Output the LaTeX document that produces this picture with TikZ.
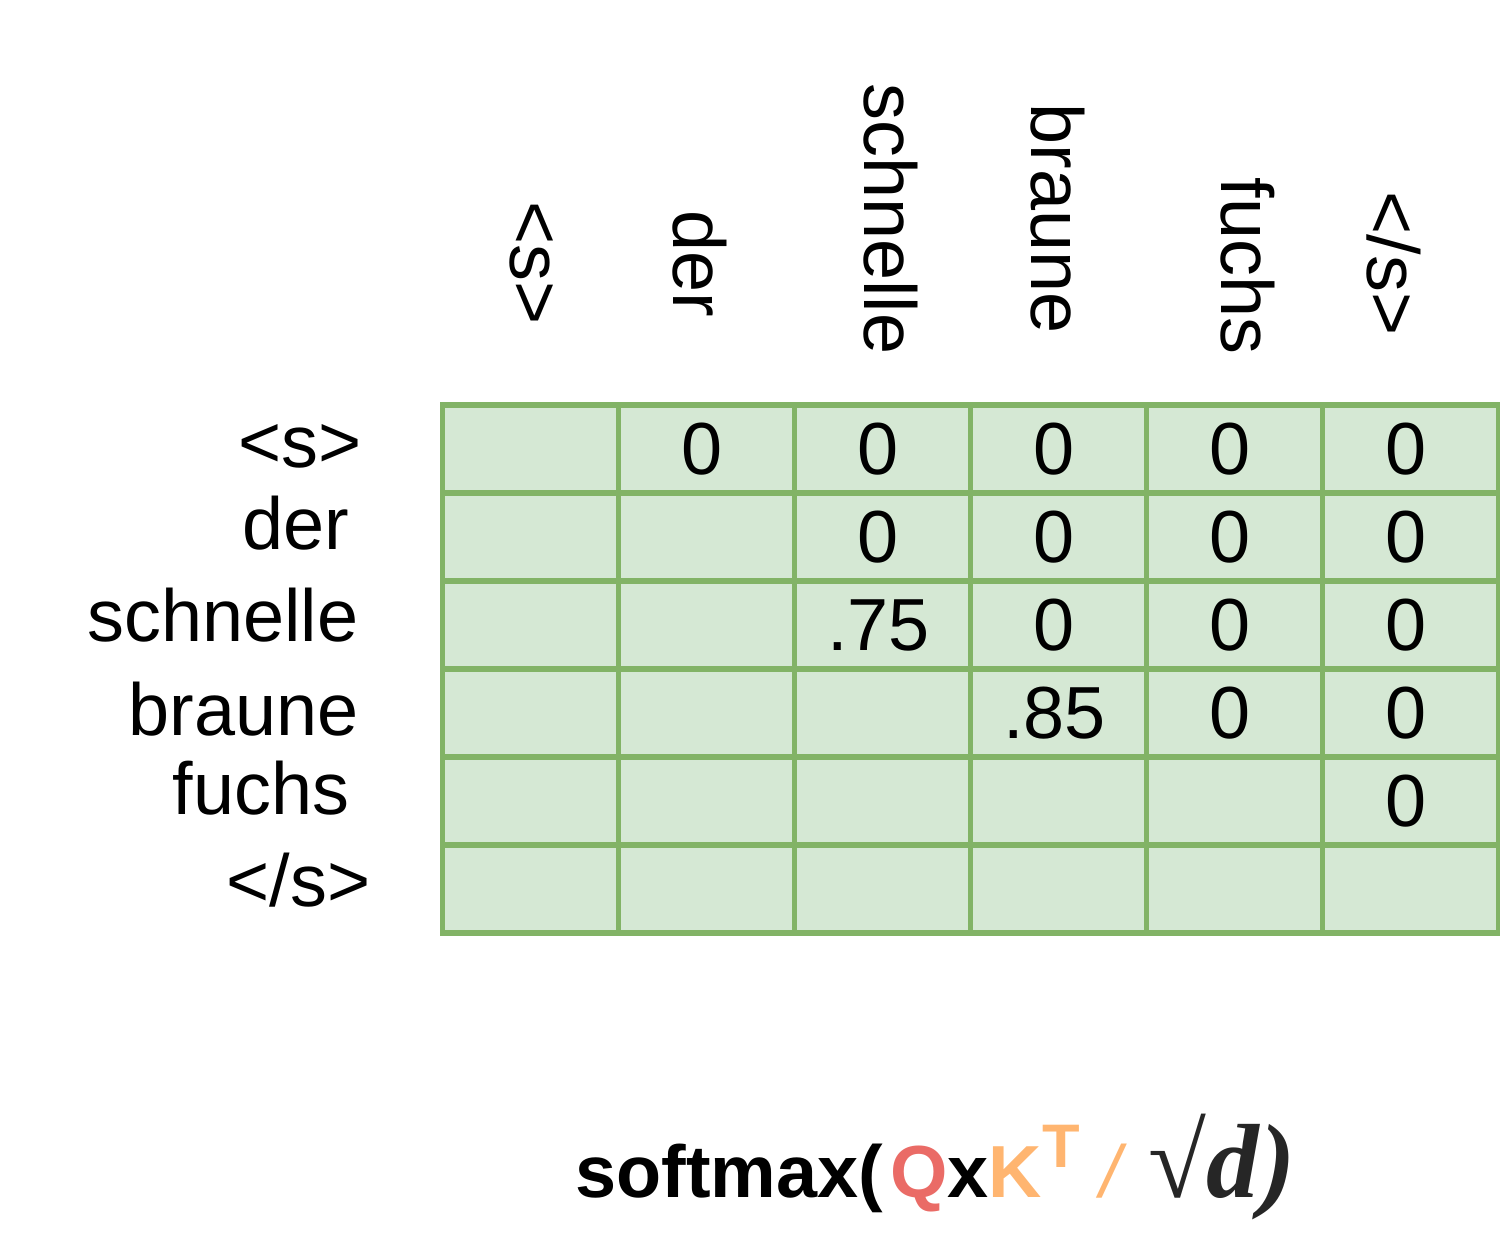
\documentclass[tikz,border=0pt]{standalone}
\usepackage{fontspec}
\setmainfont{Liberation Sans}
\newfontfamily\rootfont{Liberation Serif}
\usepackage{xcolor}
\definecolor{cellfill}{HTML}{D5E8D4}
\definecolor{celledge}{HTML}{82B366}
\definecolor{qred}{HTML}{EA6B66}
\definecolor{korange}{HTML}{FFB570}

\begin{document}
\begin{tikzpicture}[
    word/.style={font=\fontsize{21}{25}\selectfont, inner sep=0pt},
    colword/.style={word, rotate=-90, anchor=base west},
    rowword/.style={word, anchor=base east},
    gridline/.style={line width=1.7pt, draw=celledge}
]
    \useasboundingbox (0,0) rectangle (15,-12.36);

    % the grid
    \draw[gridline, fill=cellfill] (4.425,-4.05) rectangle (14.985,-9.33);
    \draw[gridline] (6.185,-4.05) -- (6.185,-9.33);
    \draw[gridline] (7.945,-4.05) -- (7.945,-9.33);
    \draw[gridline] (9.705,-4.05) -- (9.705,-9.33);
    \draw[gridline] (11.465,-4.05) -- (11.465,-9.33);
    \draw[gridline] (13.225,-4.05) -- (13.225,-9.33);
    \draw[gridline] (4.425,-4.93) -- (14.985,-4.93);
    \draw[gridline] (4.425,-5.81) -- (14.985,-5.81);
    \draw[gridline] (4.425,-6.69) -- (14.985,-6.69);
    \draw[gridline] (4.425,-7.57) -- (14.985,-7.57);
    \draw[gridline] (4.425,-8.45) -- (14.985,-8.45);

    % column words
    \node[colword] (ks) at (5.10,-2.01) {<s>};
    \node[colword] (kder) at (6.73,-2.10) {der};
    \node[colword] (kschnelle) at (8.64,-0.83) {schnelle};
    \node[colword] (kbraune) at (10.31,-1.03) {braune};
    \node[colword] (kfuchs) at (12.21,-1.77) {fuchs};
    \node[colword] (kend) at (13.67,-1.91) {</s>};

    % row words
    \node[rowword] (qs) at (3.62,-4.68) {<s>};
    \node[rowword] (qder) at (3.50,-5.50) {der};
    \node[rowword] (qschnelle) at (3.59,-6.42) {schnelle};
    \node[rowword] (qbraune) at (3.59,-7.36) {braune};
    \node[rowword] (qfuchs) at (3.50,-8.15) {fuchs};
    \node[rowword] (qend) at (3.71,-9.07) {</s>};

    % scores
    \node[word] (s12) at (7.025,-4.49) {0};
    \node[word] (s13) at (8.785,-4.49) {0};
    \node[word] (s14) at (10.545,-4.49) {0};
    \node[word] (s15) at (12.305,-4.49) {0};
    \node[word] (s16) at (14.065,-4.49) {0};

    \node[word] (s23) at (8.785,-5.37) {0};
    \node[word] (s24) at (10.545,-5.37) {0};
    \node[word] (s25) at (12.305,-5.37) {0};
    \node[word] (s26) at (14.065,-5.37) {0};

    \node[word] (s33) at (8.785,-6.25) {.75};
    \node[word] (s34) at (10.545,-6.25) {0};
    \node[word] (s35) at (12.305,-6.25) {0};
    \node[word] (s36) at (14.065,-6.25) {0};

    \node[word] (s44) at (10.545,-7.13) {.85};
    \node[word] (s45) at (12.305,-7.13) {0};
    \node[word] (s46) at (14.065,-7.13) {0};

    \node[word] (s56) at (14.065,-8.01) {0};

    % formula
    \node[word, anchor=base west] (formula) at (5.75,-11.98) {\bfseries softmax(\kern2pt\textcolor{qred}{Q}x\textcolor{korange}{K\raisebox{8.8pt}{\fontsize{17.5}{20}\selectfont T} {\mdseries\itshape /}} \kern2pt{\rootfont\color{black!85}\fontsize{30}{34}\selectfont √\textbf{\textit{d}}\textit{)}}};

\end{tikzpicture}
\end{document}
